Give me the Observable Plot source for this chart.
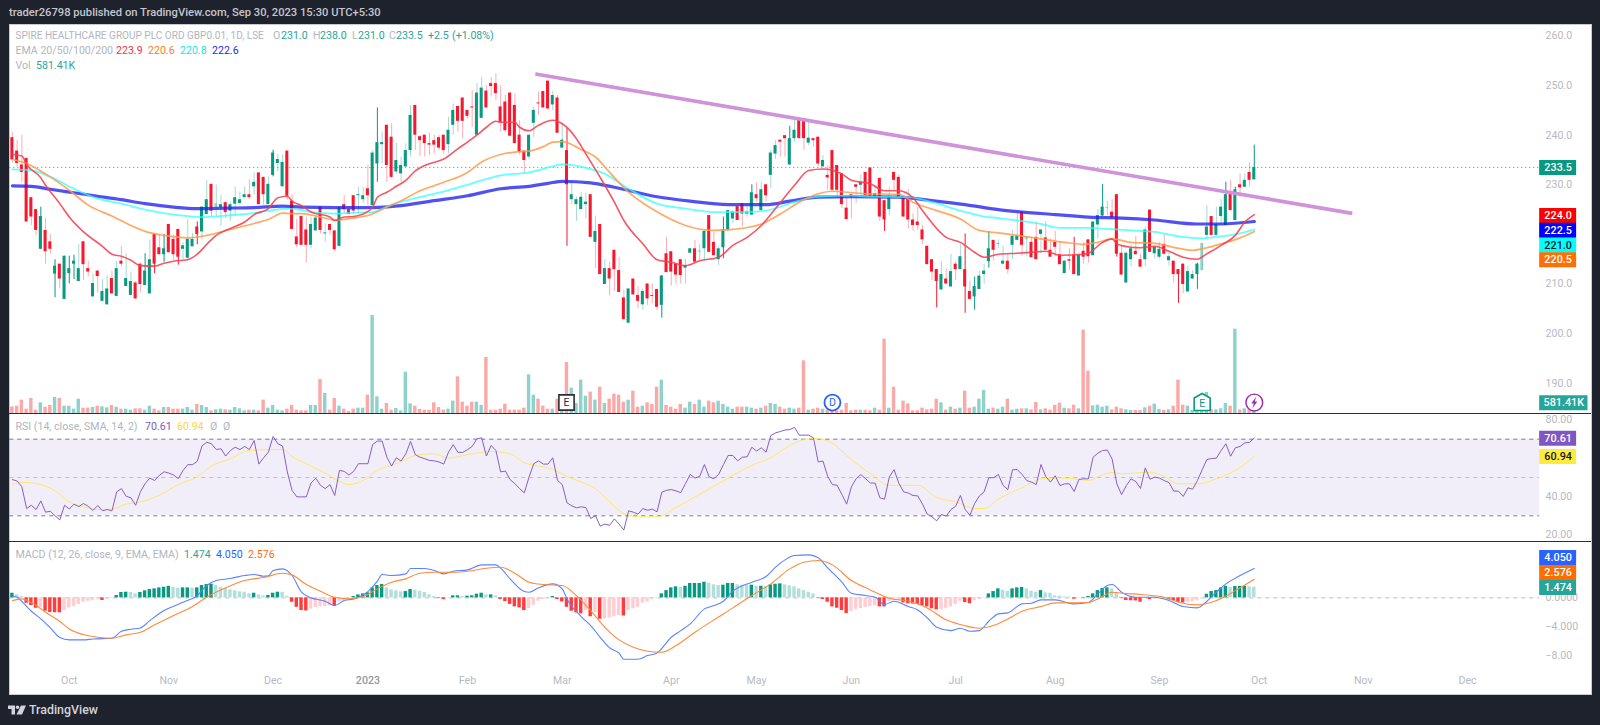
<!DOCTYPE html>
<html><head><meta charset="utf-8">
<script src="https://cdn.jsdelivr.net/npm/d3@7"></script>
<script src="https://cdn.jsdelivr.net/npm/@observablehq/plot@0.6"></script>
<style>
html,body{margin:0;padding:0;background:#1e222d;width:1600px;height:725px;overflow:hidden;font-family:Roboto,sans-serif}
#frame{position:absolute;left:9px;top:24px;width:1581px;height:669px;background:#fff;border:1px solid #c8cad0;box-sizing:content-box}
.sep{position:absolute;left:9px;width:1582px;height:1px;background:#2a2e39}
.pane{position:absolute;left:0}
.pane svg{display:block;overflow:visible;background:transparent}
.t{position:absolute;white-space:nowrap;transform:translateY(-50%);font-size:10.6px;line-height:1}
</style></head><body>
<div id="frame"></div>
<div class="sep" style="top:413px"></div>
<div class="sep" style="top:541px"></div>
<div id="root"></div>
<script>
const open=[239.5,236.8,234,235.3,227.4,225,217,220.8,218.5,212,
214,206.9,212.1,214,210.5,218.5,213.1,207.4,212.6,206.5,
205.8,211.1,207.5,214.6,209.5,207.7,210.2,214,209.7,208,
220,217.3,215.9,222,219,221,217,215.2,217.5,221.5,
220.5,224,230.1,225.5,225.4,226.4,224.7,226.1,226.2,227.4,
228,229.6,232.4,231.5,226,231.9,234.3,229.6,236.8,226.7,
219.5,223.6,220.9,217.8,220.7,225.5,220.1,222,220.7,217.6,
226,225,227.8,227.8,227,229.2,225.8,234.2,238.1,242,
239.6,232.6,232.2,233.6,236.9,246,239.7,240,238.3,238.9,
239.5,240,238.1,242,245.8,247.5,245,245.7,240,243.4,
248.9,250.4,250.4,245.7,246.7,248.5,246,240,236.8,235.6,
242.4,246.5,248.8,250.9,246.1,247.5,237.4,236.9,227,226,
225,226,228,218.4,222,209.9,213.1,216.8,212.7,207.2,
202.1,211,207.7,205.8,210,207.7,208.9,205.7,216.1,216.5,
214,214.9,213.2,216.2,217.1,216.5,217.1,223.8,218.4,214.9,
217.3,220.8,223.1,225.6,226.2,224.1,223.9,228,224.8,230,
231.9,236.2,239,239.9,234,239.3,243,243,238.4,239.3,
239.6,233.6,231.9,236.9,233.9,232.2,225.3,228,230,229.9,
232.5,233.4,227.5,231.3,226.8,225,232.5,231.5,227.6,227.5,
222.9,222.5,220.9,217.6,214.9,212.9,208.8,211,209.4,214,
212.9,212.9,208.5,207.4,208.9,211.9,214.5,218.8,218,214,
214.6,217.8,218.8,224.5,218.9,218.4,219.4,220,219.3,216.8,
218.4,215.9,212.1,214.9,215.9,211.6,216.6,218.9,215.7,221.9,
223.7,225.2,224.5,228,216.2,210.2,214.9,216.6,214.9,214.9,
224.9,216.1,215.4,218,214.7,214.6,212.9,214,208.4,211,
211.9,212.7,219.8,223.6,219.8,223.6,221.8,228.4,222.8,230,229.5,232.5,231];
const high=[240.5,239,240,235.5,227.4,225,225.5,223.2,220,214.9,
214,215.6,215.6,215.8,218,218.5,214.6,212,212.6,210.9,
211.7,212.6,214.6,217.6,216.1,212.4,210.5,214.2,216.1,218.9,
220,220,220,222,219.8,221,218.3,223,220.2,222.5,
225.5,230.9,230.1,230,227.9,226.5,226.4,229.6,228.6,229.6,
231,232.4,232.4,231.5,231.6,237,236.1,236,236.8,228,
223,223.6,223.5,223.5,223.8,225.5,222.1,222,220.7,225.5,
227.8,225.5,227.8,229.5,229.5,233.9,236.9,245.5,240.6,242,
242.3,238.4,235.6,238.3,246,246,239.9,240,240.4,240,
240,240,243.6,246.3,245.8,247.5,245,249,250.4,251.7,
250,251.6,252.4,250,248,248.5,248.3,242.9,236.8,240,
245.7,248.7,248.8,250.9,248.9,248,242.3,241.3,230.5,227.5,
228.5,228.3,228,223.7,222,214.9,214.4,216.8,215.4,208.7,
209,211,209.4,209,210,210,208.9,211.7,219.4,216.5,
214,214.9,215,217.1,218.8,218,220.8,223.8,220.4,217.5,
223.5,224.8,224.8,225.6,226.2,226.2,230,230.4,230.4,230,
236.9,238.9,239,239.9,241.8,243.5,243.5,243,242.6,239.3,
239.6,235.9,233.9,236.9,233.9,232.2,227.2,228,230,232,
232.5,233.4,229.9,231.3,226.8,229.5,232.5,232,227.6,229,
224.1,225.5,221.8,217.6,214.9,212.9,214.5,213,216,214.4,
218,220.1,210.6,211.4,212.6,214,220.6,218.8,218.9,217.6,
216,220.8,224.5,224.5,219.6,219.4,222.5,220.9,222.5,219.1,
220.6,218.6,214.7,217.1,219.4,216.2,218.4,218.9,222.5,225,
230.1,226.6,227,228,217.6,216.4,217.9,219.6,216,221.5,
224.9,217.5,218.4,220,216.4,214.6,212.9,214,213.5,212.7,
214.2,218.2,225.8,223.6,225.5,227,230.5,230.9,229.5,232.2,232.2,234.4,238];
const low=[234.4,233.6,230.5,222.5,221.8,219.8,217,214,216,207.2,
209,206.9,210,210.9,210.5,210.7,211.4,207.4,208.2,206.5,
205.7,208,207.4,213.4,209.5,207.7,206.9,208.2,209.7,208,
212.1,215.9,214.4,216.3,214.8,213.8,214.8,214.8,217.5,217.9,
219,224,223.6,223.5,221.6,223.2,222.7,223.6,226.2,227.4,
227,227.9,226,225.9,226,231.6,232.6,229.6,226.9,221,
217.3,217.8,214.2,217.1,220.7,220.1,218.4,219.8,216.6,217.4,
224.2,224,224,224,226.2,225.8,225.8,230.5,234.2,230.5,
231.2,232.2,230.5,233.6,235.6,236.9,235.7,235.6,235.9,236.2,
236.9,236.2,236.2,240,240.6,239.3,243.3,241.6,240,243.4,
245.5,247.7,247,240.6,240.6,239.8,238.3,236,232.2,235,
239.5,244,245.5,245,245,240.4,237.4,217.6,226,222.6,
225,223.1,219.4,213.1,211.9,209.9,207.6,208.5,208.3,202.8,
202.1,207.8,205,204.7,205.7,206,204.7,203.1,212.3,209.6,
210,210,210,216.2,214.4,214.7,214.7,216.4,215.7,213.7,
215.1,220.5,222.1,222.8,221.5,223.5,223.9,226.5,224.8,226.5,
229.3,235.1,235.6,235.6,234,238.6,239.3,236.9,237.9,237.6,
233.6,233.6,228.9,228.9,227.2,225.2,222.8,223.1,226.2,227.8,
227.8,227.4,227.5,222.6,220.6,223.8,228.9,227.4,223.5,221.1,
220.7,220.8,218,213.9,210.7,205.2,208.8,210,209.4,210.7,
212.9,204.1,206.9,204.7,208.9,210,213.2,214.7,217.1,214,
212,214.9,218.8,215.6,215.5,215.3,214.9,216.1,216.8,215.4,
215.5,213.9,212.1,212.7,211.9,211.6,214,214.2,215.7,219.1,
223.7,223.7,223.3,215.4,211.8,210.2,213.5,215.9,213.4,213.5,
216.4,215.1,215,216,213.6,210.2,206.1,208,208.4,211,
208.9,212.7,219.1,219.8,219.8,222.1,221.8,224.8,222.8,227.5,229.5,229.6,231];
const close=[235,234.3,232.5,222.5,223.5,220.8,223.6,216.5,217,213.6,
211,215.6,213.1,214.6,213.1,213.9,212.4,210.1,211.5,208.5,
209,208,213.1,214,211.1,210.5,207,209.9,212.6,214.9,
214,215.9,217.1,216.3,215.9,215.4,217.7,219,219,220,
225.5,227,224.7,226.2,226,224.4,226,227.4,227,228,
227.4,230.5,226,228,230.1,236.4,235.1,234.5,227.7,221,
217.9,217.8,217.8,222,223.3,220.8,220.3,220.8,216.9,225.4,
225,224,224.7,228,227.8,227.8,236.4,238.5,238.5,233.9,
231.5,234.9,233.9,236.9,244,240,238.9,238.3,238,238,
237.4,236.9,241,245,242.8,242.8,243.8,245.5,248.5,249.5,
245.5,249.8,248.4,242.6,240.9,239.8,238.3,236.6,234.9,240,
245,246.3,245.5,245.3,248,240.4,239,230,228,227,
227.5,226.5,219.4,220.6,211.9,213.1,211,212.9,208.3,202.8,
209,207.8,206.5,208.5,207,207.5,205.3,211.6,212.3,212.4,
211.8,211.7,213.7,217.1,214.4,216.6,220.6,216.4,215.7,217.1,
220.9,224.8,224.5,222.8,224.1,224.5,228.4,227.2,229,227.8,
236.4,237.9,238.6,239.3,239.3,241,239.3,239.3,239.4,238.9,
234.2,234.9,231.4,228.9,228.9,226,223,227.5,229.5,230.5,
227.8,227.6,228.2,223.5,222.9,227.6,230.9,227.4,223.5,222.9,
221.8,221.8,218.9,213.9,212.4,210.5,211.9,210,212.5,212.9,
215.5,209.4,206.9,209.5,211.6,212.6,217.1,216.8,218.1,214.6,
212.9,219.6,219.6,217.8,219.5,215.3,214.9,220.9,216.8,215.4,
217.4,213.9,214.6,214.6,211.9,215.8,215.4,215.5,222.5,223.8,
225.5,225.4,223.3,216,211.8,216.2,217.1,215.9,213.4,220.9,
216.4,217.4,217,216,215.5,211.9,211.9,209.9,212.5,211.9,
214,218.2,221.5,219.8,222,225.5,228,224.8,229,229.4,230.9,230.9,233.5];
// volume in thousands of shares
const volume=[1000,1100,2000,650,2250,500,1600,950,1200,2400,
2250,1100,1100,650,2150,800,800,900,1100,1000,
850,1200,950,650,650,500,700,700,500,1100,
650,400,900,900,650,650,650,900,500,1350,
1200,900,400,550,650,550,500,900,700,400,
500,500,400,2000,800,1200,500,400,650,1200,
500,400,400,1200,1200,5100,3000,500,2250,1100,
650,300,650,800,800,2750,14700,2500,650,1500,
500,750,400,6200,1450,1100,600,500,500,1600,
900,500,650,1850,5500,1700,1100,1700,1700,1200,
8400,500,500,650,1400,500,500,500,800,5800,
2750,2150,1100,650,650,2150,1500,7650,3800,1500,
5000,2600,3200,2000,3950,1500,2150,2900,2750,1700,
2000,3350,950,1100,1600,1350,3950,5000,1200,950,
650,1350,800,1700,1350,2000,950,1850,1600,1850,
1350,950,650,950,950,950,800,650,800,1100,
1500,1350,950,650,800,650,800,7900,500,650,
800,650,500,400,400,500,1500,400,500,500,
500,400,800,500,11150,800,3950,500,1850,1450,
400,400,800,550,650,2150,1600,500,950,650,
800,3350,800,950,2150,3450,650,800,650,950,
2150,500,650,700,700,550,1650,550,700,500,
1200,1550,800,700,1250,700,12500,6350,1150,1250,
950,1100,550,950,700,550,450,450,450,850,
1100,1400,600,450,550,1100,5000,1250,1100,450,
300,500,3150,600,550,700,1500,1100,12650,550,700,550,581.41];
const rsi=[48.9,48.2,45.1,33.8,35.5,33.3,37.8,31.9,32.4,30,
27.9,35.5,33.6,36.1,34.8,36.4,35,32.8,35.4,32.6,
33.3,32.6,42.5,44.2,40.2,39.4,35.5,42.5,46.8,49.7,
48.4,51.1,53,52.3,51.3,49.4,53.7,56.7,56.7,58.4,
66.5,68.4,67.6,64.6,65,61.2,64.1,65.8,64.6,66.2,
64.6,69.3,57,60.3,63.2,71.4,67.6,66.4,52.9,43.3,
39.9,39.9,39.9,47.1,49.6,45.9,44.2,46.3,40.6,53.7,
53.2,51.3,53.2,57.2,57.2,57.2,67.2,69,69,60.6,
56,60.3,58.6,62.4,68.8,61.9,60.6,59.8,58.9,58.7,
58.1,57,63.2,67.1,63.1,63.1,64.5,66.2,70.2,70.7,
61.2,66.7,64.1,52.9,53.4,48.9,46.8,44.2,42,50.3,
57.2,58.7,57,57,60.3,48.5,46.3,36.8,35.2,34.2,
34.7,34.3,28.6,30.2,24.6,25.7,25,28.4,25.7,22.6,
32.6,31.9,30.9,33.8,32.9,33.5,32.1,42.3,43.3,43.7,
43,42.1,46.8,51.6,49.7,50.6,56.8,50.3,49.4,51.6,
56.7,61.5,61.5,58.7,60.6,60.8,65.8,63.8,65.5,63.2,
71.9,73.3,74,74.8,75,76.2,72.1,72.1,72.1,70.7,
58.1,58.6,50.6,46.3,45.9,41.1,36.1,45.1,49.4,51.5,
49.4,47.1,47.1,39.4,38.7,50.3,54.1,47.1,42.5,41.9,
40.6,40.4,36.1,30.9,29.5,27.4,30.7,29.8,33.3,35,
40.6,33.3,30.3,36.4,40.4,42.5,49.9,49.9,51.6,45.9,
43.7,54.1,54.1,51.6,48.4,47.6,46.3,56.8,50.5,47.6,
50.9,45.8,46.7,46.7,42.7,49,49.3,49.3,60.6,62.7,
64.1,64.3,59.7,46.7,41.1,45.8,49.3,47.9,44.3,55,
49.1,50.2,49.7,48.4,47.4,42.9,42.9,40.1,44.6,43.9,
48.4,54,59.4,59.9,60.1,64.1,67.6,61.1,65.5,66.2,68.1,68.3,70.61];
const hist=[.64,.41,.18,-.74,-1.06,-1.43,-1.35,-1.84,-2.02,-2.05,
-2.06,-1.75,-1.4,-1.2,-.92,-.6,-.46,-.37,-.23,-.36,
-.2,-.1,.32,.74,.78,.74,.55,.74,.97,1.15,
1.24,1.38,1.47,1.6,1.47,1.34,1.38,1.38,1.33,1.38,
1.7,1.84,1.88,1.7,1.47,1.29,1.1,.97,.83,.78,
.55,.64,.41,.28,.32,.64,.78,.77,.23,-.6,
-1.3,-1.75,-1.8,-1.56,-1.33,-1.24,-1.2,-1.1,-1.15,-.55,
-.37,-.23,.18,.41,.55,.69,1.38,1.7,1.84,1.38,
1.1,.97,.83,.87,1.15,1.06,.92,.74,.41,.18,
-.09,-.23,-.05,.28,.28,.18,.23,.28,.51,.64,
.41,.41,.28,-.23,-.5,-.9,-1.24,-1.38,-1.75,-1.47,
-1.01,-.46,-.23,-.09,.18,-.23,-.55,-1.3,-1.84,-2.07,
-2.2,-1.75,-2.6,-2,-2.94,-2.93,-2.76,-2.6,-2.44,-2.5,
-1.75,-1.52,-1.3,-.74,-.55,-.23,-.09,.55,1,1.38,
1.52,1.47,1.6,1.98,1.98,1.98,2.16,2.02,1.79,1.7,
1.75,1.98,1.98,1.79,1.75,1.7,1.75,1.6,1.6,1.58,
1.79,1.88,1.93,1.79,1.66,1.52,1.24,1,.78,.55,
-.05,-.23,-.6,-1.24,-1.43,-1.75,-2.16,-1.89,-1.6,-1.47,
-1.33,-1.2,-1.1,-1.24,-1.25,-.5,-.25,-.2,-.7,-.8,
-.85,-.9,-1.05,-1.25,-1.5,-1.65,-1.6,-1.43,-1.25,-.9,
-.46,-.65,-.8,-.4,-.23,-.05,.55,.87,1.24,1.05,
.87,1.24,1.38,1.43,1.24,.92,.78,1,.69,.64,
.28,.23,.14,.09,-.18,-.05,.05,.18,.55,1,
1.29,1.38,1.24,.64,-.09,-.37,-.4,-.42,-.6,-.05,
-.23,-.05,-.04,-.03,-.28,-.37,-.6,-.69,-.6,-.55,
-.4,-.1,.5,.87,1,1.38,1.6,1.43,1.56,1.58,1.6,1.52,1.474];
// smooth lines: [bar, value] read at the visible bends
const ema20=[[0,236.1],[2,235.8],[3,234.1],[6,231.4],[7,229.9],[10,226.2],[12,223.5],[15,220.5],[19,217.6],[21,216],[23,215.6],[25,214.8],[27,213.7],[30,213.6],[32,214.2],[34,214.6],[37,214.9],[39,216],[41,218],[43,219.8],[46,221.2],[49,222.5],[51,224],[54,225.2],[56,227.4],[58,227.7],[59,226.7],[61,225.8],[63,224.5],[67,223.5],[68,222.8],[70,223.5],[72,223.6],[74,224.1],[76,225.5],[77,227.5],[79,228.5],[81,229.7],[83,230.9],[85,232.8],[87,233.9],[91,235.2],[94,237.3],[96,238.6],[98,240],[100,241.6],[102,242.8],[103,242.6],[106,242.6],[107,241.6],[109,240.9],[111,242],[114,243],[116,242.3],[119,239.3],[121,236.2],[124,231.5],[127,226.5],[129,222.8],[133,218.1],[136,214.9],[139,214.4],[142,213.7],[145,214.7],[149,215.4],[152,217.8],[155,219.4],[158,221.8],[161,225.2],[165,229.9],[168,232.9],[171,233.2],[175,232.2],[177,230.9],[181,230.2],[184,228.8],[187,228.8],[190,227.4],[192,224.8],[197,219.4],[200,218.4],[203,216.4],[205,215.4],[208,216],[212,216.2],[215,216.4],[218,216.6],[221,215.8],[226,216],[227,216.2],[230,218.4],[232,219.1],[233,218.1],[236,217.4],[238,217.3],[241,217.6],[244,216.6],[247,215.4],[250,215],[252,216.1],[255,217.8],[258,219.8],[260,222.5],[262,224]];
const ema50=[[0,235.1],[3,234.3],[7,232.2],[12,228.9],[16,225.9],[21,223.7],[25,221.8],[28,220.6],[32,219.8],[37,219.3],[41,219.8],[46,221],[51,222.2],[54,223],[57,224.3],[59,224.2],[61,224.2],[65,223.5],[68,222.9],[72,223.3],[75,223.8],[79,225.5],[82,226.8],[86,228.8],[91,230.5],[96,232.5],[99,234.6],[103,236.1],[106,236.6],[109,236.8],[112,237.7],[114,238.6],[116,238.7],[120,237.1],[123,235.6],[126,232.5],[130,228.5],[137,224],[142,221.8],[148,220.8],[152,221],[158,222.1],[162,224.1],[166,226.5],[170,228.2],[173,228.7],[180,228.2],[187,228.1],[190,226.5],[195,224.8],[200,223.1],[204,220.8],[208,220.3],[212,219.8],[217,219.1],[222,218.4],[226,218],[229,218.4],[232,219.1],[236,218.4],[241,218.2],[245,217.4],[249,216.8],[252,217.3],[255,218.1],[259,219.3],[262,220.6]];
const ema100=[[0,233.1],[4,232.9],[8,231.6],[13,229.2],[18,227.2],[23,226.2],[28,225],[34,224],[40,223.5],[45,223.8],[50,224.2],[55,224.9],[58,225.2],[61,224.9],[63,224.5],[68,224.2],[72,224.4],[76,224.5],[80,226],[86,227.5],[92,228.9],[97,230.3],[103,231.9],[109,232.5],[114,233.7],[116,234.1],[121,233.4],[125,232.2],[130,229.2],[136,226.2],[142,225.2],[148,224.5],[154,224.5],[159,224.8],[165,226.5],[170,227.6],[177,227.8],[182,227.6],[189,227.5],[194,226.5],[200,224.8],[205,223.6],[208,223.3],[212,222.8],[217,222.1],[221,221.3],[227,221.3],[231,221.1],[236,220.8],[241,220.5],[246,219.6],[251,219.2],[255,219.6],[259,220.2],[262,221]];
const ema200=[[0,229.8],[4,229.7],[8,229.1],[13,228.4],[18,227.7],[23,227],[28,226.2],[34,225.5],[39,225.2],[45,225.3],[51,225.4],[57,225.7],[61,225.5],[68,225.4],[76,225.4],[82,225.8],[89,226.8],[96,227.8],[103,229.2],[109,229.7],[113,230.3],[116,230.7],[122,230.4],[127,229.5],[136,227.6],[143,226.7],[151,226],[159,226],[164,226.7],[170,227.5],[177,227.6],[187,227.5],[194,226.8],[201,226],[208,225],[212,224.6],[220,224],[227,223.5],[234,223.3],[241,222.9],[250,222.1],[255,222.1],[262,222.6]];
const rsiSma=[[0,46.4],[2,47.5],[6,46.3],[9,43],[12,37.3],[15,34.7],[18,33.3],[21,33.5],[24,36.1],[27,37.3],[31,40.7],[35,46.3],[39,50.3],[42,56],[46,59.8],[50,64.1],[54,64.5],[57,64.6],[59,61],[62,57.2],[66,52.3],[69,48],[71,46.3],[74,48.5],[77,53.7],[81,57.2],[85,61.5],[89,62.4],[92,60.1],[96,61.9],[101,63.6],[105,62.4],[107,59.3],[108,57.7],[111,56],[114,54.2],[117,50.6],[120,47.7],[123,44.2],[126,37.3],[129,31.2],[132,29.5],[136,29.5],[140,34.3],[144,39.8],[148,45.4],[152,51.1],[156,56.3],[160,60.3],[164,66.7],[169,70.5],[173,67.9],[177,59.3],[181,52],[185,45.9],[191,45.9],[195,39.5],[199,37.3],[203,33.8],[205,33.8],[208,38.7],[211,42.5],[213,44.6],[217,49.3],[221,49.7],[225,49.1],[227,48.4],[230,51.4],[232,52.6],[234,51.9],[240,52.8],[243,50.5],[246,46.7],[250,46.7],[254,49.3],[258,53.7],[262,60.94]];
const macd=[[0,.23],[1,.09],[2,-.5],[4,-1.84],[6,-2.9],[8,-4.14],[10,-5.47],[12,-5.79],[15,-5.79],[17,-5.66],[21,-5.56],[23,-4.6],[25,-4.32],[27,-4.14],[29,-3.13],[32,-1.75],[34,-1.15],[36,-.6],[39,.32],[41,1.7],[43,2.39],[46,2.67],[49,3.08],[51,3.22],[53,2.99],[54,3.03],[55,3.77],[57,4],[59,3.08],[61,.78],[63,0],[66,-.46],[68,-1.06],[70,-.37],[72,-.14],[75,.87],[77,2.3],[78,3.22],[80,3.08],[83,3.31],[84,4.05],[87,4.05],[89,3.77],[91,3.31],[93,3.68],[96,3.86],[99,4.55],[102,4.55],[103,4.1],[105,2.62],[108,.87],[109,.78],[111,1.38],[114,1.93],[116,1.24],[117,-.14],[120,-2.57],[122,-3.82],[124,-5.43],[126,-6.9],[128,-7.63],[129,-8.46],[132,-8.46],[134,-7.95],[136,-7.59],[139,-5.43],[141,-4.51],[143,-3.59],[146,-1.52],[148,-1.06],[150,-.46],[152,.92],[156,2.16],[159,2.94],[161,4.23],[163,5.24],[165,5.84],[168,5.93],[170,5.52],[172,4.14],[175,2.16],[177,.64],[180,.32],[182,.09],[184,-.92],[186,-.46],[189,-1.2],[191,-1.66],[193,-2.76],[195,-4.05],[198,-4.51],[200,-4.18],[202,-4.6],[204,-4.51],[206,-3.22],[208,-2.21],[210,-2.07],[213,-.83],[215,-.74],[217,-.28],[220,-.28],[224,-.83],[227,-.64],[229,.55],[231,1.7],[232,1.84],[234,.78],[237,.09],[241,.09],[244,-.37],[247,-1.2],[250,-1.38],[252,-.46],[254,.78],[256,1.93],[259,3.08],[262,4.05]];
const signal=[[0,-.41],[2,-.14],[4,-.64],[7,-1.98],[10,-3.26],[12,-4.28],[15,-5.06],[18,-5.43],[21,-5.56],[24,-5.1],[27,-4.74],[30,-3.72],[34,-2.44],[38,-1.2],[41,.09],[45,1.38],[49,2.39],[53,2.8],[57,3.4],[59,3.17],[62,1.84],[65,.92],[68,.09],[71,-.14],[74,.18],[77,1.24],[80,2.16],[83,2.62],[86,3.4],[89,3.54],[93,3.54],[96,3.68],[100,4.09],[103,4.23],[106,3.4],[109,2.16],[112,1.84],[116,1.7],[119,.32],[122,-1.75],[125,-4.05],[128,-5.79],[131,-6.8],[134,-7.36],[137,-7.49],[140,-6.57],[144,-4.74],[148,-3.03],[152,-1.38],[156,.32],[160,1.93],[164,4],[167,4.92],[170,5.15],[173,4.55],[177,2.39],[181,1.1],[185,-.05],[189,-.46],[193,-1.38],[197,-3.03],[200,-3.68],[204,-4.18],[207,-3.82],[210,-2.9],[213,-1.84],[217,-1.2],[220,-.69],[227,-.64],[229,-.14],[232,.78],[234,.64],[238,.46],[243,.09],[246,-.6],[250,-.97],[254,-.37],[258,1],[262,2.576]];
const trendBars=[110.7,282.3];
const trendPrices=[252.3,224.3];
const solidWicks=[6,9,11,12,13,28,30,32,35,39,55,77,117,137,147,150,156,164,184,195,201,203,206,224,230,233,240,246,250,256,258,262];
const paleBodies=[43,214,231,251];
// axes
const priceTicks=[190,200,210,230,240,250,260];
const rsiTicks=[80,40,20];
const macdTicks=[0,-4,-8];
const macdTickLabels=["0.0000","\u22124.000","\u22128.00"];
const timeTicks=[12,33,55,96,116,139,157,177,199,220,242,263,285,307];
const timeLabels=["Oct","Nov","Dec","Feb","Mar","Apr","May","Jun","Jul","Aug","Sep","Oct","Nov","Dec"];
const yearTick=[75];
const yearLabel=["2023"];
// badges on the price axes: text shown, height it sits at (in axis units), colours
const priceBadges=[
 {label:"233.5",at:233.5,fill:"#089981",ink:"#fff"},
 {label:"224.0",at:223.8,fill:"#ff0000",ink:"#fff"},
 {label:"222.5",at:220.85,fill:"#0000ff",ink:"#fff"},
 {label:"221.0",at:217.8,fill:"#00ffff",ink:"#131722"},
 {label:"220.5",at:214.9,fill:"#ff7000",ink:"#fff"}];
const volBadge=[{label:"581.41K",at:186.05,fill:"#26a69a",ink:"#fff"}];
const rsiBadges=[{label:"70.61",at:70.5,fill:"#7e57c2",ink:"#fff"},{label:"60.94",at:60.94,fill:"#ffeb3b",ink:"#131722"}];
const macdBadges=[{label:"4.050",at:5.56,fill:"#2962ff",ink:"#fff"},{label:"2.576",at:3.49,fill:"#ff6d00",ink:"#fff"},{label:"1.474",at:1.42,fill:"#26a69a",ink:"#fff"}];
const lastPrice=233.5;
const eventBars={earnings:116.9,dividend:173,earningsNext:251,split:262};
const eventPrice=186.1;

const GREEN="#089981",RED="#f7182f";
const FONT="Roboto, sans-serif";
const N=close.length;
const bars=d3.range(N).map(i=>({i,o:open[i],h:high[i],l:low[i],c:close[i],v:volume[i],rsi:rsi[i],m:hist[i],
  up:close[i]>=open[i],prev:i?hist[i-1]:hist[0],
  solid:solidWicks.includes(i),pale:paleBodies.includes(i)}));
const X={domain:[-2.51,322.38]};
const AX_START=-.55,BADGE_L=322.2,BADGE_R=330,BADGE_RW=332.4,AX_END=322.2,HALF=.36,BODY=.32;
const base={width:1600,marginLeft:0,marginRight:60,marginTop:0,marginBottom:0,x:{...X,axis:null,label:null},
  style:{fontFamily:FONT,fontSize:"10.6px",color:"#b2b5be",background:"transparent",overflow:"visible"}};
const toObj=a=>a.map(([i,v])=>({i,v}));
const line=(a,stroke,strokeWidth,strokeOpacity=1)=>Plot.line(toObj(a),{x:"i",y:"v",stroke,strokeWidth,strokeOpacity,curve:"monotone-x"});
function badges(arr,right=BADGE_R){
  return [
    Plot.ruleY(arr,{y:"at",x1:BADGE_L,x2:right,stroke:"fill",strokeWidth:15}),
    Plot.text(arr,{y:"at",x:(BADGE_L+right)/2,text:"label",fill:"ink",fontWeight:500,fontSize:10.8})
  ];
}
function add(svg,top){const d=document.createElement("div");d.className="pane";d.style.top=top+"px";d.appendChild(svg);document.getElementById("root").appendChild(d);}

// volume pane layer
add(Plot.plot({...base,height:389,y:{domain:[0,58350],axis:null},marks:[
  Plot.rect(bars,{x1:d=>d.i-HALF,x2:d=>d.i+HALF,y1:0,y2:"v",fill:d=>d.up?"#8fd2cb":"#fba8a8"})
]}),24);

// price
const bolt={draw(c,size){const s=Math.sqrt(size/Math.PI)/8;
  c.moveTo(2*s,-6*s);c.lineTo(-3*s,1*s);c.lineTo(-.4*s,1*s);c.lineTo(-2*s,6*s);c.lineTo(3*s,-1*s);c.lineTo(.4*s,-1*s);c.closePath();}};
const house={draw(c,size){const s=Math.sqrt(size/Math.PI)/8;
  c.moveTo(0,-9*s);c.lineTo(8*s,-4.5*s);c.lineTo(8*s,8*s);c.lineTo(-8*s,8*s);c.lineTo(-8*s,-4.5*s);c.closePath();}};
add(Plot.plot({...base,height:389,y:{domain:[183.89,262.32],axis:null},marks:[
  Plot.ruleY([lastPrice],{x1:AX_START,x2:AX_END,stroke:"#26a69a",strokeDasharray:"1,3",strokeWidth:1}),
  Plot.ruleX(bars,{x:"i",y1:"l",y2:"h",stroke:d=>d.up?GREEN:RED,strokeOpacity:d=>d.solid?1:.36,strokeWidth:1}),
  Plot.rect(bars,{x1:d=>d.i-BODY,x2:d=>d.i+BODY,y1:"o",y2:"c",fill:d=>d.up?GREEN:RED,fillOpacity:d=>d.pale?.35:1}),
  line(ema200,"#2020f0",3.2,.78),
  line(ema100,"#30ffff",1.8,.75),
  line(ema50,"#ff9a4a",1.7,.85),
  line(ema20,"#f5404f",1.6,.88),
  Plot.line(trendBars.map((i,k)=>({i,v:trendPrices[k]})),{x:"i",y:"v",stroke:"#ce93d8",strokeWidth:3.6,strokeLinecap:"square"}),
  Plot.axisY(priceTicks,{anchor:"right",label:null,tickSize:0,tickPadding:5,tickFormat:d=>d.toFixed(1),fill:"#b7bac2"}),
  ...badges(priceBadges),
  ...badges(volBadge,BADGE_RW),
  Plot.dot([eventBars.earnings],{x:d=>d,y:eventPrice,r:8.6,symbol:"square",fill:"#fff",stroke:"#2a2e39",strokeWidth:1.6}),
  Plot.text(["E"],{x:eventBars.earnings,y:eventPrice,text:d=>d,fill:"#2a2e39",fontSize:10.5}),
  Plot.dot([eventBars.dividend],{x:d=>d,y:eventPrice,r:8,fill:"#fff",stroke:"#2962ff",strokeWidth:1.8}),
  Plot.text(["D"],{x:eventBars.dividend,y:eventPrice,text:d=>d,fill:"#2962ff",fontSize:10.5}),
  Plot.dot([eventBars.earningsNext],{x:d=>d,y:eventPrice,r:8,symbol:house,fill:"#fff",stroke:GREEN,strokeWidth:1.6}),
  Plot.text(["E"],{x:eventBars.earningsNext,y:eventPrice,dy:1,text:d=>d,fill:GREEN,fontSize:10.5}),
  Plot.dot([eventBars.split],{x:d=>d,y:eventPrice,r:8.4,fill:"#fff",stroke:"#9c27b0",strokeWidth:1.4}),
  Plot.dot([eventBars.split],{x:d=>d,y:eventPrice,r:8,symbol:bolt,fill:"#9c27b0",stroke:"none"})
]}),24);

// RSI
add(Plot.plot({...base,height:128,y:{domain:[16.6,83.4],axis:null},marks:[
  Plot.rect([0],{x1:AX_START,x2:AX_END,y1:30,y2:70,fill:"#7e57c2",fillOpacity:.1}),
  Plot.ruleY([70,30],{x1:AX_START,x2:AX_END,stroke:"#787b86",strokeDasharray:"4,4",strokeWidth:1}),
  Plot.ruleY([50],{x1:AX_START,x2:AX_END,stroke:"#787b86",strokeOpacity:.4,strokeDasharray:"4,4",strokeWidth:1}),
  line(rsiSma,"#fde74c",1,.85),
  Plot.line(bars,{x:"i",y:"rsi",stroke:"#7e57c2",strokeWidth:1,strokeOpacity:.95}),
  Plot.axisY(rsiTicks,{anchor:"right",label:null,tickSize:0,tickPadding:5,tickFormat:d=>d.toFixed(2),fill:"#b7bac2"}),
  ...badges(rsiBadges)
]}),413);

// MACD and time axis
const histColor=d=>d.m>=0?(d.m>=d.prev?"#089981":"#b2dfdb"):(d.m<d.prev?"#ff3b3b":"#ffcdd2");
add(Plot.plot({...base,height:153,marginBottom:24,y:{domain:[-10.01,7.77],axis:null},marks:[
  Plot.ruleY([0],{x1:AX_START,x2:AX_END,stroke:"#787b86",strokeOpacity:.5,strokeDasharray:"4,4",strokeWidth:1}),
  Plot.rect(bars,{x1:d=>d.i-HALF,x2:d=>d.i+HALF,y1:0,y2:"m",fill:histColor}),
  line(macd,"#5b83ff",1.1),
  line(signal,"#ff8a3c",1.1),
  Plot.axisY(macdTicks,{anchor:"right",label:null,tickSize:0,tickPadding:5,tickFormat:d=>macdTickLabels[macdTicks.indexOf(d)],fill:"#b7bac2"}),
  ...badges(macdBadges),
  Plot.axisX(timeTicks,{anchor:"bottom",label:null,tickSize:0,tickPadding:6,tickFormat:d=>timeLabels[timeTicks.indexOf(d)],fill:"#b7bac2"}),
  Plot.axisX(yearTick,{anchor:"bottom",label:null,tickSize:0,tickPadding:6,tickFormat:()=>yearLabel[0],fill:"#9598a1",fontWeight:500})
]}),541);

// text overlays
const G="#b2b5be",T="#26a69a";
const legendTexts=[
 ["SPIRE HEALTHCARE GROUP PLC ORD GBP0.01, 1D, LSE",15.5,36,G,10.05],
 ["O",273,36,G],["231.0",281,36,T],["H",313,36,G],["238.0",320,36,T],["L",352,36,G],["231.0",358,36,T],
 ["C",389,36,G],["233.5",396,36,T],["+2.5",428,36,T],["(+1.08%)",452,36,T],
 ["EMA 20/50/100/200",15.5,51,G],["223.9",116,51,"#f23645"],["220.6",148,51,"#ff7a1a"],["220.8",180,51,"#18e6e6"],["222.6",212,51,"#2a2ae8"],
 ["Vol",15.5,66,G],["581.41K",36,66,T],
 ["RSI (14, close, SMA, 14, 2)",15.5,426.7,G],["70.61",145,426.7,"#7e57c2"],["60.94",177,426.7,"#fdd835"],["\u00d8",210,426.7,G],["\u00d8",223,426.7,G],
 ["MACD (12, 26, close, 9, EMA, EMA)",15.5,555,G],["1.474",184,555,T],["4.050",216,555,"#2962ff"],["2.576",248,555,"#ff6d00"]
];
for(const [s,x,y,c,f] of legendTexts){const e=document.createElement("div");e.className="t";e.textContent=s;e.style.cssText=`left:${x}px;top:${y}px;color:${c}`+(f?`;font-size:${f}px`:"");document.body.appendChild(e);}
const hdr=document.createElement("div");hdr.className="t";hdr.textContent="trader26798 published on TradingView.com, Sep 30, 2023 15:30 UTC+5:30";
hdr.style.cssText="left:9px;top:13px;color:#c4c6cd;font-size:11.2px;font-weight:500";document.body.appendChild(hdr);
const brand=document.createElement("div");brand.className="t";brand.textContent="TradingView";
brand.style.cssText="left:29px;top:710px;color:#d1d4dc;font-size:12.4px;font-weight:500";document.body.appendChild(brand);
const logo=document.createElementNS("http://www.w3.org/2000/svg","svg");
logo.setAttribute("width","18");logo.setAttribute("height","10");logo.setAttribute("viewBox","0 0 36 20");
logo.style.cssText="position:absolute;left:8px;top:705px";
logo.innerHTML='<path fill="#d1d4dc" d="M0 1h14v18H7V8H0z"/><circle cx="19" cy="4.5" r="3.5" fill="#d1d4dc"/><path fill="#d1d4dc" d="M26 1h10l-8 18H17z"/>';
document.body.appendChild(logo);
</script>
</body></html>
